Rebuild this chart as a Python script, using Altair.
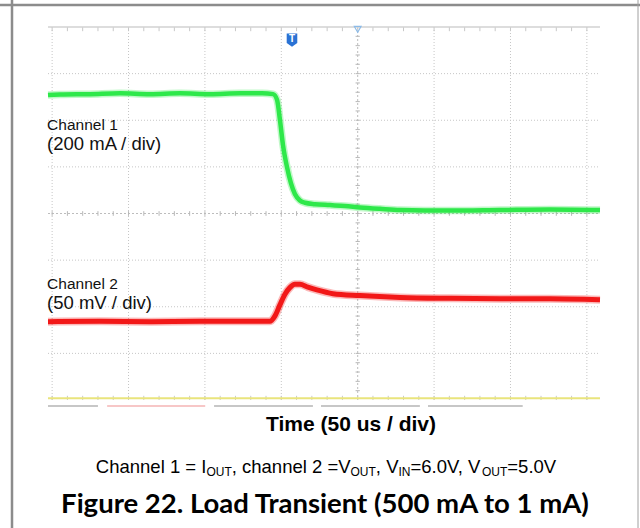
import altair as alt
import pandas as pd
import numpy as np

# ---- scope traces: time in us (0 = trigger), position in screen divisions from centre ----
ch1_time = [-202.7, -194.8, -175.2, -155.6, -136.0, -116.3, -96.7, -77.0, -62.6, -55.4,
            -52.8, -50.9, -48.9, -46.3, -43.7, -41.1, -37.8, -34.5, -28.0, -18.2,
            -8.4, 1.5, 14.6, 27.7, 60.4, 93.1, 125.8, 158.6]
ch1_div = [2.54, 2.55, 2.56, 2.58, 2.56, 2.58, 2.56, 2.58, 2.58, 2.56,
           2.44, 2.01, 1.47, 1.00, 0.65, 0.42, 0.28, 0.23, 0.20, 0.18,
           0.16, 0.13, 0.10, 0.075, 0.064, 0.075, 0.086, 0.075]

ch2_time = [-202.7, -168.7, -136.0, -103.3, -70.6, -57.5, -54.2, -50.9, -47.6, -44.4,
            -41.1, -37.8, -32.6, -26.7, -16.2, 1.5, 27.7, 60.4, 93.1, 125.8, 158.6]
ch2_div = [-2.32, -2.31, -2.32, -2.31, -2.31, -2.31, -2.20, -1.96, -1.73, -1.59,
           -1.52, -1.52, -1.58, -1.64, -1.72, -1.76, -1.80, -1.82, -1.83, -1.83, -1.85]

# graticule
grid_time = [-200, -150, -100, -50, 50, 100, 150]
grid_div = [-3, -2, -1, 1, 2, 3]
minor_time = list(range(-200, 151, 10))
minor_div = [round(v, 1) for v in np.arange(-3.8, 3.81, 0.2)]

# status bar segments under the screen (time span, colour)
bar_start = [-202.7, -164.0, -94.0, -24.0, 46.0]
bar_end = [-170.0, -99.8, -29.3, 40.7, 108.0]
bar_color = ["#b4b4b4", "#f5b5b5", "#b4b4b4", "#b4b4b4", "#b4b4b4"]

T0, T1 = -202.7, 158.6
W, H = 552, 373
OX, OY = 48, 27  # plot origin inside the page

xs = alt.Scale(domain=[T0, T1], nice=False, zero=False)
ys = alt.Scale(domain=[-4, 4], nice=False, zero=False)


def X(f):
    return alt.X(f, type="quantitative", scale=xs, axis=None)


def Y(f):
    return alt.Y(f, type="quantitative", scale=ys, axis=None)


def X2(f):
    return alt.X2(f)


def Y2(f):
    return alt.Y2(f)


layers = []

# dotted division lines
vgrid = pd.DataFrame({"t": grid_time, "y0": 4.0, "y1": -4.0})
layers.append(alt.Chart(vgrid).mark_rule(color="#c6c6c6", strokeWidth=1, strokeDash=[1, 2])
              .encode(x=X("t"), y=Y("y0"), y2=Y2("y1")))
hgrid = pd.DataFrame({"d": grid_div, "t0": T0, "t1": T1})
layers.append(alt.Chart(hgrid).mark_rule(color="#c6c6c6", strokeWidth=1, strokeDash=[1, 2])
              .encode(x=X("t0"), x2=X2("t1"), y=Y("d")))

# centre axes
cax = pd.DataFrame({"t0": [T0, 0.0], "t1": [T1, 0.0], "d0": [0.0, 4.0], "d1": [0.0, -4.0]})
layers.append(alt.Chart(cax).mark_rule(color="#bdbdbd", strokeWidth=1, strokeDash=[2, 2])
              .encode(x=X("t0"), x2=X2("t1"), y=Y("d0"), y2=Y2("d1")))

# minor ticks along centre horizontal axis, top edge and bottom edge
ticks = []
for t in minor_time:
    ticks.append({"t0": t, "t1": t, "d0": -0.05, "d1": 0.05, "c": "#b8b8b8"})
    ticks.append({"t0": t, "t1": t, "d0": 4.0, "d1": 3.91, "c": "#c8c8c8"})
    ticks.append({"t0": t, "t1": t, "d0": -4.0, "d1": -3.91, "c": "#c8c8c8"})
for d in minor_div:
    ticks.append({"t0": -1.4, "t1": 1.4, "d0": d, "d1": d, "c": "#b8b8b8"})
tick_df = pd.DataFrame(ticks)
layers.append(alt.Chart(tick_df).mark_rule(strokeWidth=1)
              .encode(x=X("t0"), x2=X2("t1"), y=Y("d0"), y2=Y2("d1"),
                      color=alt.Color("c:N", scale=None)))

# top edge (solid) and bottom edge (yellow)
edges = pd.DataFrame({"t0": [T0, T0], "t1": [T1, T1], "d": [4.0, -3.96],
                      "c": ["#d2d2d2", "#e9e47c"], "w": [1.5, 2.0]})
layers.append(alt.Chart(edges).mark_rule()
              .encode(x=X("t0"), x2=X2("t1"), y=Y("d"),
                      color=alt.Color("c:N", scale=None),
                      strokeWidth=alt.StrokeWidth("w:Q", scale=None)))

# status bar under the screen
bars = pd.DataFrame({"t0": bar_start, "t1": bar_end, "d": -4.13, "c": bar_color})
layers.append(alt.Chart(bars).mark_rule(strokeWidth=1.5)
              .encode(x=X("t0"), x2=X2("t1"), y=Y("d"),
                      color=alt.Color("c:N", scale=None)))

# channel traces: a faint wide halo under a solid core gives the fuzzy scope look
ch1 = pd.DataFrame({"t": ch1_time, "d": ch1_div})
ch2 = pd.DataFrame({"t": ch2_time, "d": ch2_div})
for df, col, core in [(ch1, "#2ee84a", 4.5), (ch2, "#f21818", 5.0)]:
    layers.append(alt.Chart(df).mark_line(color=col, strokeWidth=core + 3, opacity=0.3,
                                          interpolate="monotone")
                  .encode(x=X("t"), y=Y("d")))
    layers.append(alt.Chart(df).mark_line(color=col, strokeWidth=core, interpolate="monotone")
                  .encode(x=X("t"), y=Y("d")))

# trigger markers
trig = pd.DataFrame({"t": [-43.0], "d": [3.72]})
layers.append(alt.Chart(trig).mark_point(shape="M-0.8,-1L0.8,-1L0.8,0.45L0,1L-0.8,0.45Z",
                                         filled=True, color="#2a72d4", opacity=1, size=175)
              .encode(x=X("t"), y=Y("d")))
layers.append(alt.Chart(trig).mark_text(text="T", color="white", fontSize=10, fontWeight="bold",
                                        font="Liberation Sans", dy=-1)
              .encode(x=X("t"), y=Y("d")))
pos = pd.DataFrame({"t": [0.0], "d": [3.95]})
layers.append(alt.Chart(pos).mark_point(shape="triangle-down", filled=False, color="#8cbbe8",
                                        size=45, strokeWidth=1.2, opacity=1)
              .encode(x=X("t"), y=Y("d")))

# channel labels
lab = pd.DataFrame({
    "t": [-203.3, -203.3, -203.3, -203.3],
    "d": [1.79, 1.36, -1.62, -2.05],
    "txt": ["Channel 1", "(200 mA / div)", "Channel 2", "(50 mV / div)"],
    "s": [15.5, 18.5, 15.5, 18.5],
})
for _, r in lab.iterrows():
    layers.append(alt.Chart(pd.DataFrame([r])).mark_text(align="left", baseline="alphabetic",
                                                         font="Liberation Sans",
                                                         fontSize=float(r["s"]), color="#111111")
                  .encode(x=X("t"), y=Y("d"), text="txt:N"))

one = pd.DataFrame({"k": [0]})

# axis title
layers.append(alt.Chart(one).mark_text(text="Time (50 us / div)", font="Liberation Sans",
                                       fontSize=21, fontWeight="bold", align="center",
                                       baseline="alphabetic", color="#000000")
              .encode(x=alt.value(351 - OX), y=alt.value(431 - OY)))

# conditions line with subscripts, laid out with Liberation Sans advance widths
adv = {'C': 722, 'h': 556, 'a': 556, 'n': 556, 'e': 556, 'l': 222, ' ': 278, '1': 556,
       '=': 584, 'I': 278, ',': 278, 'c': 500, '2': 556, 'V': 667, 'O': 778, 'U': 722,
       'T': 611, 'N': 722, '6': 556, '.': 278, '0': 556, '5': 556}
pieces = [("Channel 1 = I", False), ("OUT", True), (", channel 2 =V", False), ("OUT", True),
          (", V", False), ("IN", True), ("=6.0V, V", False), ("OUT", True), ("=5.0V", False)]
main_size, sub_size = 18.5, 12.0


def text_w(s, size):
    return sum(adv[ch] for ch in s) * size / 1000.0


total = sum(text_w(p, sub_size if sub else main_size) for p, sub in pieces)
cx = 326 - total / 2
for p, sub in pieces:
    size = sub_size if sub else main_size
    layers.append(alt.Chart(one).mark_text(text=p, font="Liberation Sans", fontSize=size,
                                           align="left", baseline="alphabetic", color="#000000")
                  .encode(x=alt.value(cx - OX), y=alt.value((476 if sub else 473) - OY)))
    cx += text_w(p, size)

# figure caption
layers.append(alt.Chart(one).mark_text(text="Figure 22. Load Transient (500 mA to 1 mA)",
                                       font="Lato", fontSize=27.5, fontWeight="bold",
                                       align="center", baseline="alphabetic", color="#000000")
              .encode(x=alt.value(325 - OX), y=alt.value(513 - OY)))

# page frame
frame = [
    dict(x=12 - OX, x2=12 - OX, y=0 - OY, y2=528 - OY, c="#8c8c8c", w=2.5),
    dict(x=0 - OX, x2=640 - OX, y=5 - OY, y2=5 - OY, c="#8c8c8c", w=2.5),
    dict(x=638 - OX, x2=638 - OX, y=0 - OY, y2=528 - OY, c="#a0a0a0", w=1),
]
for f in frame:
    layers.append(alt.Chart(one).mark_rule(color=f["c"], strokeWidth=f["w"])
                  .encode(x=alt.value(f["x"]), x2=alt.value(f["x2"]),
                          y=alt.value(f["y"]), y2=alt.value(f["y2"])))

chart = (alt.layer(*layers)
         .properties(width=W, height=H,
                     padding={"left": OX, "top": OY, "right": 640 - OX - W, "bottom": 528 - OY - H},
                     autosize=alt.AutoSizeParams(type="none"), background="white")
         .configure_view(stroke=None))

chart.save("out.html", embed_options={"renderer": "svg", "actions": False})
